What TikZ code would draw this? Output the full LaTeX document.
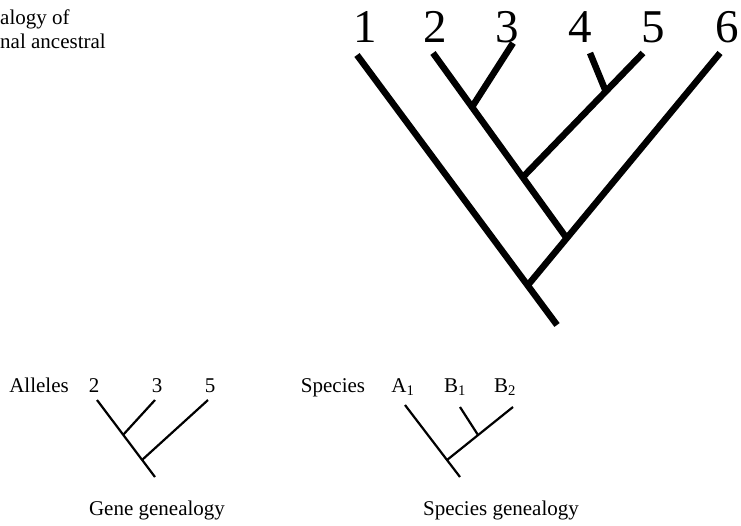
\documentclass[tikz,border=0pt]{standalone}
\usepackage{fontspec}
\setmainfont{Liberation Serif}
\begin{document}
\begin{tikzpicture}[x=1pt,y=-1pt,
  bigline/.style={line width=6.5pt},
  smallline/.style={line width=2.2pt},
  biglabel/.style={anchor=base,inner sep=0pt,font=\fontsize{47}{50}\selectfont},
  smalllabel/.style={anchor=base,inner sep=0pt,font=\fontsize{21}{24}\selectfont},
  caption/.style={anchor=base west,inner sep=0pt,font=\fontsize{21}{24}\selectfont}]
\useasboundingbox (0,0) rectangle (741,525);
% top-left clipped text
\node[caption] (t1) at (0,24) {alogy of};
\node[caption] (t2) at (0,48) {nal ancestral};
% big tree labels
\node[biglabel] (L1) at (365,42) {1};
\node[biglabel] (L2) at (435,42) {2};
\node[biglabel] (L3) at (507,42) {3};
\node[biglabel] (L4) at (580,42) {4};
\node[biglabel] (L5) at (653,42) {5};
\node[biglabel] (L6) at (727,42) {6};
% big tree
\coordinate (l1) at (357,55);
\coordinate (l2) at (433,53);
\coordinate (l3) at (513,43);
\coordinate (l4) at (590,53);
\coordinate (l5) at (643,53);
\coordinate (l6) at (720,53);
\coordinate (n23) at (472,107);
\coordinate (n45) at (606,92);
\coordinate (n2345) at (523,177);
\coordinate (n6) at (568,240);
\coordinate (n1) at (528,285);
\coordinate (root) at (557,325);
\draw[bigline] (l1) -- (root);
\draw[bigline] (l2) -- (n6);
\draw[bigline] (l3) -- (n23);
\draw[bigline] (l4) -- (n45);
\draw[bigline] (l5) -- (n2345);
\draw[bigline] (l6) -- (n1);
% gene genealogy
\node[smalllabel] (alle) at (39,392) {Alleles};
\node[smalllabel] (a2) at (94,392) {2};
\node[smalllabel] (a3) at (157,392) {3};
\node[smalllabel] (a5) at (210,392) {5};
\coordinate (g2) at (97,400);
\coordinate (g3) at (155,400);
\coordinate (g5) at (208,400);
\coordinate (gn23) at (123,435);
\coordinate (gn) at (142,460);
\coordinate (groot) at (155,477);
\draw[smallline] (g2) -- (groot);
\draw[smallline] (g3) -- (gn23);
\draw[smallline] (g5) -- (gn);
\node[smalllabel] (gcap) at (157,515) {Gene genealogy};
% species genealogy
\node[smalllabel] (spec) at (333,392) {Species};
\node[smalllabel] (sa1) at (403,392) {A\textsubscript{1}};
\node[smalllabel] (sb1) at (455,392) {B\textsubscript{1}};
\node[smalllabel] (sb2) at (505,392) {B\textsubscript{2}};
\coordinate (sA) at (405,405);
\coordinate (sB1) at (460,407);
\coordinate (sB2) at (513,407);
\coordinate (sB) at (478,435);
\coordinate (sn) at (447,460);
\coordinate (sroot) at (460,477);
\draw[smallline] (sA) -- (sroot);
\draw[smallline] (sB1) -- (sB);
\draw[smallline] (sB2) -- (sn);
\node[smalllabel] (scap) at (501,515) {Species genealogy};
\end{tikzpicture}
\end{document}
